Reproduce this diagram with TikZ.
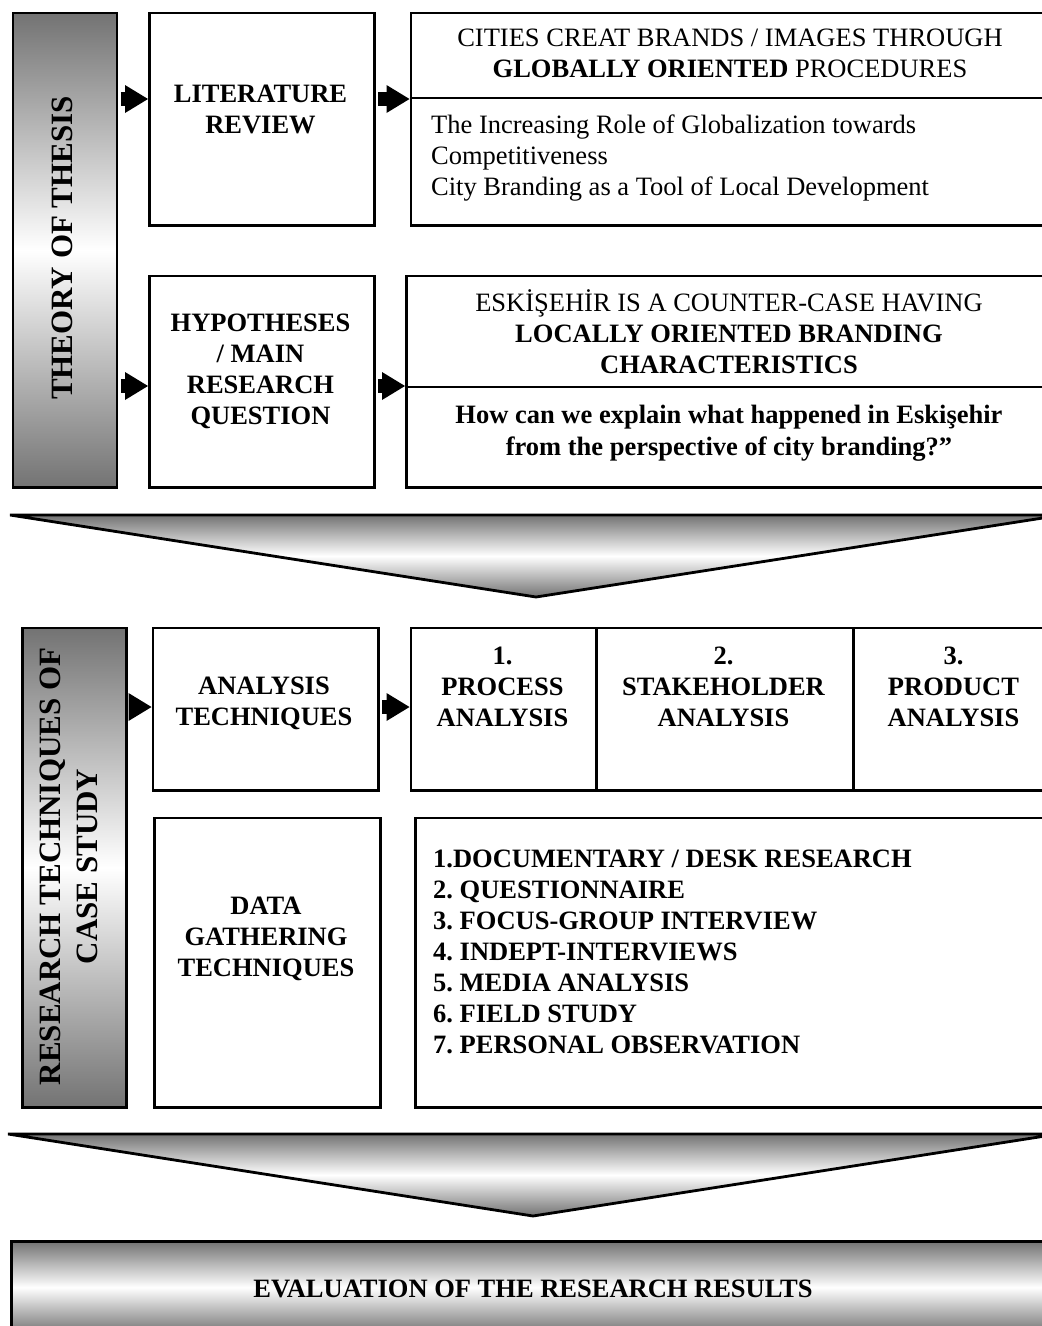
\documentclass[tikz,border=0pt]{standalone}
\usepackage{fontspec}
\setmainfont{Liberation Serif}
\usetikzlibrary{arrows.meta}
\frenchspacing
\begin{document}
\begin{tikzpicture}[x=1pt,y=-1pt,
  frame/.style={draw=black, line width=2.8pt, rectangle, inner sep=0pt, anchor=north west},
  greybar/.style={frame, top color=black!55, bottom color=black!55, middle color=white},
  greyshape/.style={draw=black, line width=2.8pt, line join=miter, top color=black!55, bottom color=black!55, middle color=white},
  txt/.style={inner sep=0pt, align=center, font=\fontsize{26.5}{31}\selectfont,
    execute at begin node=\strut, execute at end node=\strut},
  txtb/.style={txt, font=\fontsize{26.5}{31}\selectfont\bfseries},
  rtxt/.style={inner sep=0pt, align=center, rotate=90, font=\fontsize{31}{37}\selectfont\bfseries,
    execute at begin node=\strut, execute at end node=\strut},
  divider/.style={line width=2.8pt},
  blockarrow/.style={line width=14pt, shorten <=2.5pt,
    -{Triangle[length=23pt, width=28pt, line width=0pt]}}
]
\fill[white] (0,0) rectangle (1042,1326);
\useasboundingbox (0,0) rectangle (1042,1326);
\clip (0,0) rectangle (1042,1326);

% ---------- theory of thesis ----------
\node[greybar, minimum width=104, minimum height=474.5] (bar1) at (11.5,11.5) {};
\node[rtxt] (bar1t) at (64.6,248) {THEORY OF THESIS};

\node[frame, minimum width=225, minimum height=212.5] (lit) at (148,11.5) {};
\node[txtb] (litt) at (260.5,114) {LITERATURE\\REVIEW};

\node[frame, minimum width=643.5, minimum height=212.5] (rb1) at (409.5,11.5) {};
\coordinate (d1) at (0,98);
\draw[divider] (rb1.west |- d1) -- (rb1.east |- d1);
\node[txt] (rb1t) at (730,58.3) {CITIES CREAT BRANDS / IMAGES THROUGH\\\textbf{GLOBALLY ORIENTED} PROCEDURES};
\node[txt, align=left, anchor=north west] (rb1b) at (431,115)
  {The Increasing Role of Globalization towards\\Competitiveness\\City Branding as a Tool of Local Development};

\node[frame, minimum width=225, minimum height=211.5] (hyp) at (148,274.5) {};
\node[txtb] (hypt) at (260.5,374.3) {HYPOTHESES\\/ MAIN\\RESEARCH\\QUESTION};

\node[frame, minimum width=648, minimum height=211.5] (rb2) at (405,274.5) {};
\coordinate (d2) at (0,387);
\draw[divider] (rb2.west |- d2) -- (rb2.east |- d2);
\node[txt] (rb2t) at (729,335.8) {ESKİŞEHİR IS A COUNTER-CASE HAVING\\\textbf{LOCALLY ORIENTED BRANDING}\\\textbf{CHARACTERISTICS}};
\node[txtb, font=\fontsize{26.5}{32}\selectfont\bfseries] (rb2b) at (729,435.5)
  {How can we explain what happened in Eskişehir\\from the perspective of city branding?”};

\coordinate (r1) at (0,99);
\coordinate (r2) at (0,386);
\draw[blockarrow] (bar1.east |- r1) -- (lit.west |- r1);
\draw[blockarrow] (lit.east |- r1) -- (rb1.west |- r1);
\draw[blockarrow] (bar1.east |- r2) -- (hyp.west |- r2);
\draw[blockarrow] (hyp.east |- r2) -- (rb2.west |- r2);

% ---------- first funnel ----------
\path[greyshape] (10,515) -- (1062,515) -- (536,597) -- cycle;

% ---------- research techniques of case study ----------
\node[greybar, minimum width=104, minimum height=479.5] (bar2) at (21,626.5) {};
\node[rtxt] (bar2t) at (74.6,866.5) {RESEARCH TECHNIQUES OF\\CASE STUDY};

\node[frame, minimum width=225.5, minimum height=162.5] (anal) at (151.5,626.5) {};
\node[txtb] (analt) at (264,706.3) {ANALYSIS\\TECHNIQUES};

\node[frame, minimum width=185.5, minimum height=162.5] (c1) at (409.5,626.5) {};
\node[frame, minimum width=257, minimum height=162.5] (c2) at (595,626.5) {};
\node[frame, minimum width=203, minimum height=162.5] (c3) at (852,626.5) {};
\node[txtb] (c1t) at (502.5,691.5) {1.\\PROCESS\\ANALYSIS};
\node[txtb] (c2t) at (723.5,691.5) {2.\\STAKEHOLDER\\ANALYSIS};
\node[txtb] (c3t) at (953.5,691.5) {3.\\PRODUCT\\ANALYSIS};

\node[frame, minimum width=226, minimum height=289.5] (data) at (153,816.5) {};
\node[txtb] (datat) at (266,941) {DATA\\GATHERING\\TECHNIQUES};

\node[frame, minimum width=639, minimum height=289.5] (list) at (414,816.5) {};
\node[txtb, align=left, anchor=north west] (listt) at (433,849.5)
  {1.DOCUMENTARY / DESK RESEARCH\\2. QUESTIONNAIRE\\3. FOCUS-GROUP INTERVIEW\\4. INDEPT-INTERVIEWS\\5. MEDIA ANALYSIS\\6. FIELD STUDY\\7. PERSONAL OBSERVATION};

\coordinate (r3) at (0,707);
\draw[blockarrow] (bar2.east |- r3) -- (anal.west |- r3);
\draw[blockarrow] (anal.east |- r3) -- (c1.west |- r3);

% ---------- second funnel ----------
\path[greyshape] (8,1134) -- (1058,1134) -- (533,1216) -- cycle;

% ---------- evaluation ----------
\node[greybar, minimum width=1046, minimum height=92] (eval) at (10,1240) {};
\node[txtb] (evalt) at (533,1290.8) {EVALUATION OF THE RESEARCH RESULTS};
\end{tikzpicture}
\end{document}
